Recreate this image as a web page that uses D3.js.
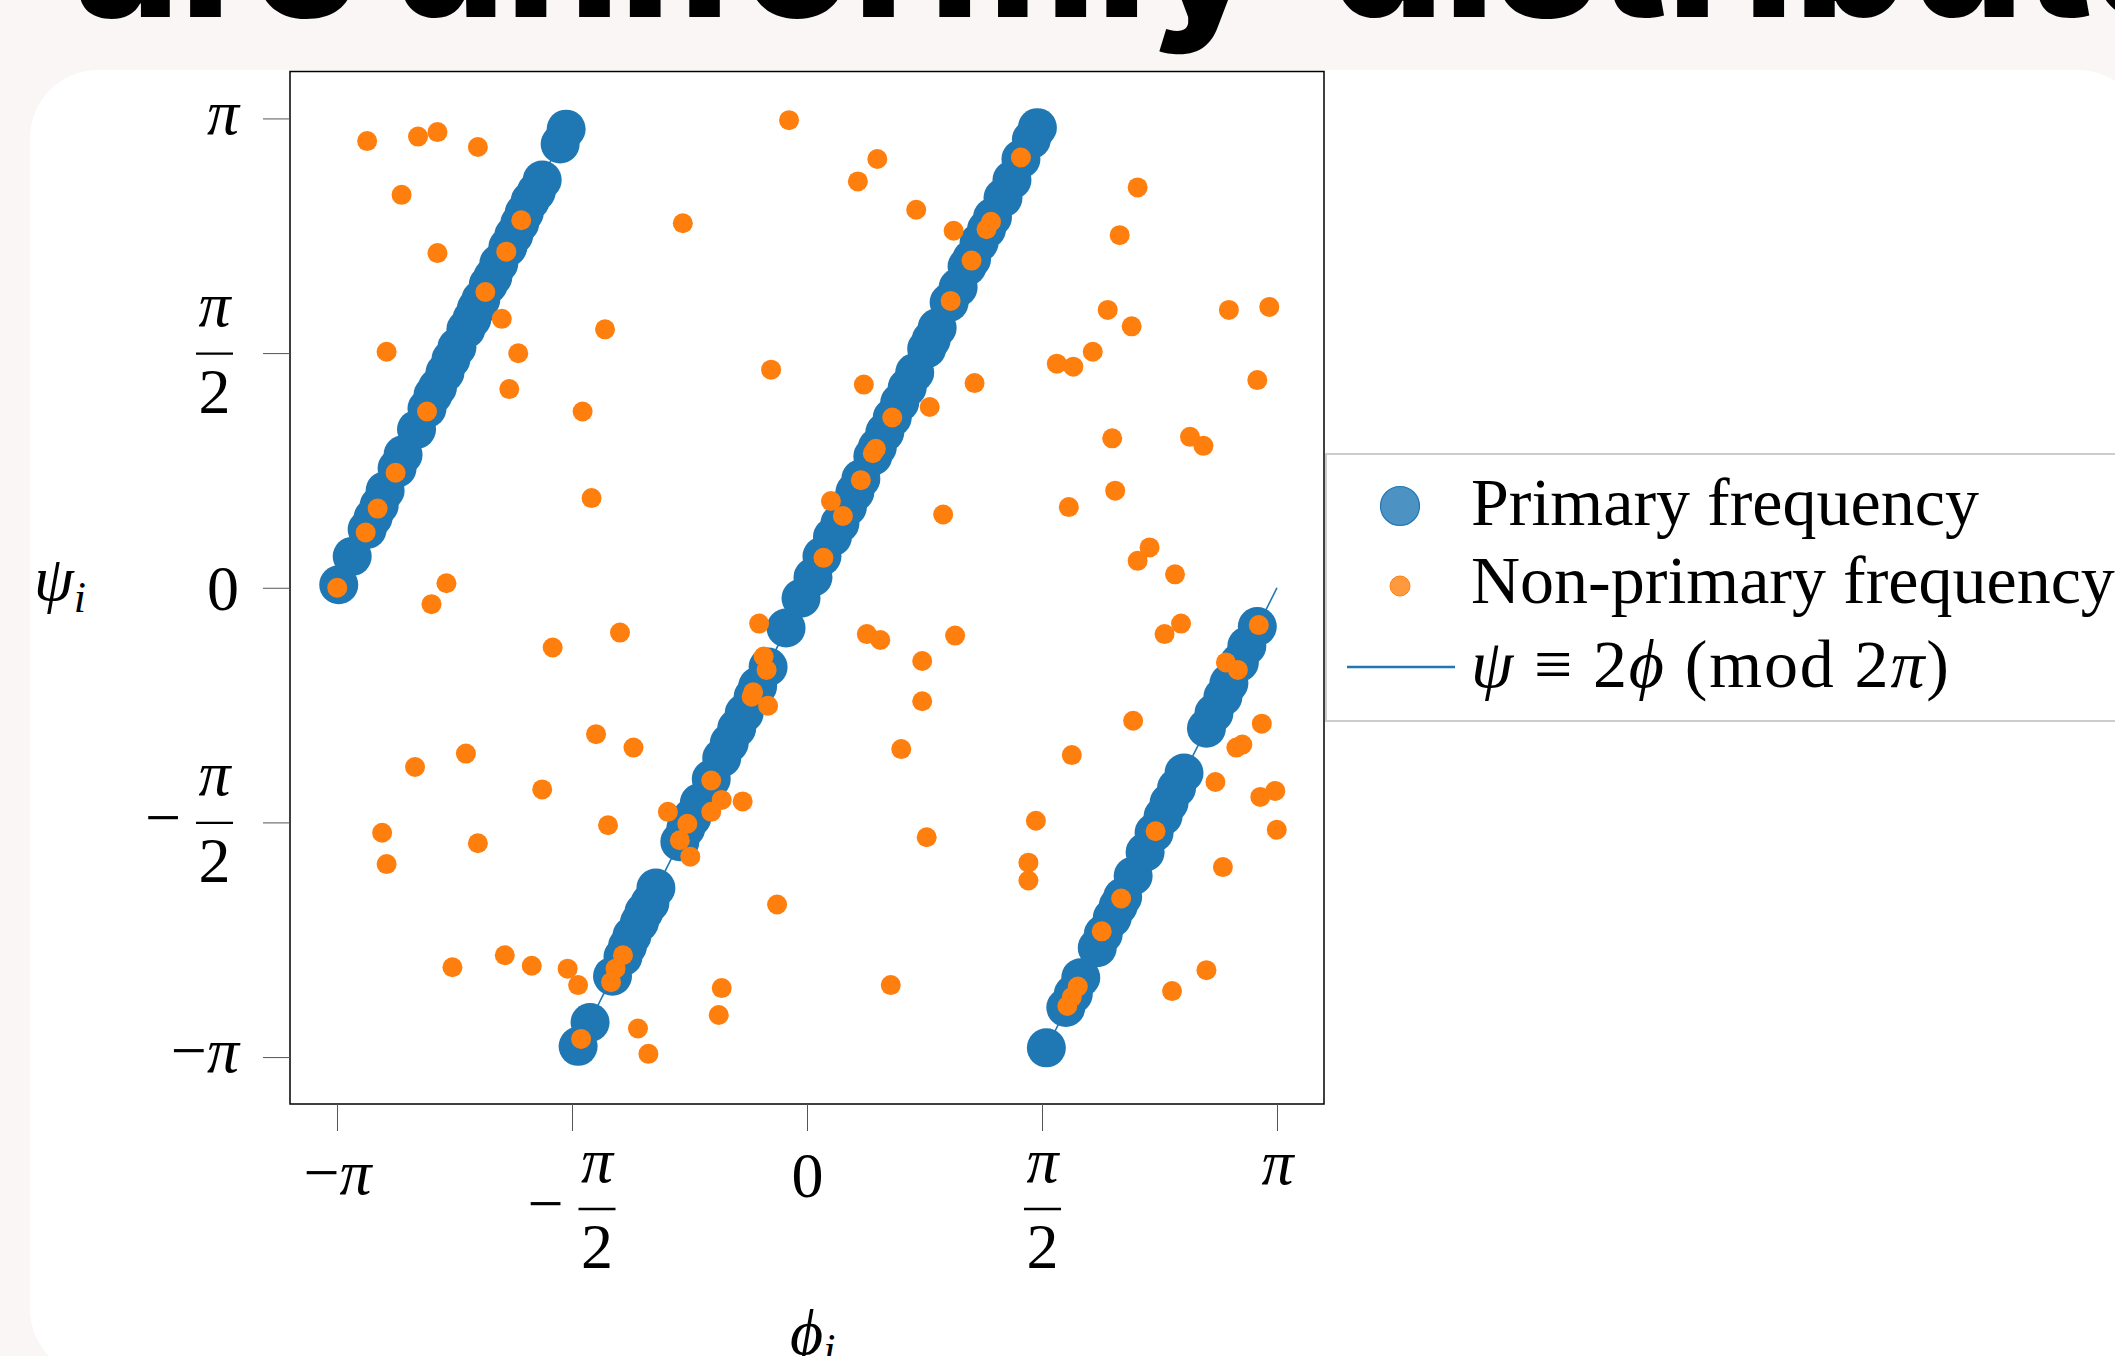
<!DOCTYPE html>
<html><head><meta charset="utf-8">
<script src="https://cdn.jsdelivr.net/npm/d3@7"></script>
<style>html,body{margin:0;padding:0;background:#f9f6f5;overflow:hidden}svg{display:block}</style>
</head><body>
<svg id="chart" width="2115" height="1356"></svg>
<script>
const PI = Math.PI;

// Primary-frequency points (phi_i, psi_i), radians
const primaryPhi = [
  -3.13, -3.04, -2.94, -2.90, -2.86, -2.82, -2.74, -2.70, -2.61, -2.54, -2.50, -2.47, -2.42, -2.38, -2.34, -2.28,
  -2.24, -2.21, -2.18, -2.13, -2.10, -2.06, -2.00, -1.96, -1.92, -1.89, -1.85, -1.81, -1.77, -1.65, -1.61,
  -1.53, -1.45, -1.30, -1.23, -1.20, -1.17, -1.12, -1.09, -1.05, -1.01, -0.85, -0.81, -0.77, -0.72, -0.64, -0.57,
  -0.52, -0.47, -0.42, -0.36, -0.33, -0.26, -0.14, -0.04, 0.04, 0.10, 0.17, 0.22, 0.27, 0.32, 0.36, 0.44, 0.47,
  0.52, 0.57, 0.62, 0.67, 0.72, 0.80, 0.83, 0.87, 0.95, 1.01, 1.07, 1.10, 1.15, 1.20, 1.24, 1.31, 1.37, 1.43, 1.50, 1.54,
  1.60, 1.73, 1.78, 1.83, 1.94, 1.98, 2.04, 2.08, 2.11, 2.18, 2.26, 2.32, 2.38, 2.42, 2.47, 2.52, 2.67, 2.72,
  2.78, 2.82, 2.89, 2.94, 3.01
];
const primaryPsi = [
  0.02, 0.21, 0.39, 0.47, 0.55, 0.65, 0.80, 0.89, 1.06, 1.20, 1.29, 1.34, 1.44, 1.53, 1.61, 1.73,
  1.80, 1.87, 1.93, 2.03, 2.08, 2.17, 2.28, 2.36, 2.44, 2.51, 2.59, 2.65, 2.73, 2.97, 3.07,
  -3.07, -2.91, -2.60, -2.47, -2.40, -2.33, -2.24, -2.17, -2.11, -2.01, -1.70, -1.61, -1.54, -1.44, -1.28, -1.14,
  -1.04, -0.94, -0.84, -0.73, -0.66, -0.53, -0.27, -0.07, 0.07, 0.21, 0.34, 0.43, 0.54, 0.64, 0.73, 0.88, 0.94,
  1.04, 1.14, 1.24, 1.34, 1.44, 1.60, 1.66, 1.74, 1.91, 2.01, 2.15, 2.20, 2.31, 2.40, 2.48, 2.61, 2.73, 2.87, 3.00, 3.08,
  -3.08, -2.81, -2.72, -2.61, -2.41, -2.32, -2.21, -2.13, -2.07, -1.93, -1.77, -1.64, -1.53, -1.44, -1.34, -1.24, -0.94, -0.84,
  -0.73, -0.64, -0.50, -0.39, -0.26
];

// Non-primary-frequency points (phi_i, psi_i), radians
const nonPrimaryPhi = [
  -2.94, -2.60, -2.47, -2.20, -0.12, -2.71, -1.91, -0.83, -2.47, -2.01, -2.15, -2.04, -1.35, -2.81, -1.93, -0.24,
  -1.99, -1.50, -2.54, -1.44, -2.75, -2.87, -2.95, -3.14, -2.41, -2.51,
  0.47, 0.34, 0.73, 0.98, 1.43, 1.23, 1.20, 1.10, 0.96, 2.21, 2.09, 2.01, 2.17, 1.91, 1.67, 1.78, 2.82, 3.09, 3.01,
  0.38, 1.12, 0.82, 0.57, 0.46, 0.44, 0.36, 0.24, 0.91, 1.75, 2.06, 2.04, 2.56, 2.65, 2.29, 2.21, 2.46, 0.16, 0.11,
  -1.70, -1.25, -0.32, -0.29, -0.27, -0.36, -0.37, -0.26, -1.41, -1.16, -2.62, -2.28, -1.77, -0.64, -0.57, -0.43,
  -0.64, -0.93, -0.80, -0.85, -0.78, -2.84, -2.20, -1.33, -2.81, -0.20, -2.37, -2.02, -1.84, -1.60, -1.53, -1.23,
  -1.28, -1.31, -1.51, -1.13, -1.06, -0.57, -0.59,
  0.40, 0.49, 0.99, 0.77, 0.77, 0.63, 1.53, 1.48, 1.48, 0.80, 0.56, 1.77, 2.18, 2.39, 2.50, 3.02, 2.80, 2.88,
  3.04, 2.87, 2.91, 2.73, 3.03, 3.13, 3.14, 2.78, 2.33, 2.10, 1.97, 1.81, 1.77, 1.74, 2.67, 2.44
];
const nonPrimaryPsi = [
  2.99, 3.02, 3.05, 2.95, 3.13, 2.63, 2.46, 2.44, 2.24, 2.25, 1.98, 1.80, 1.73, 1.58, 1.57, 1.46,
  1.33, 1.18, 1.18, 0.60, 0.77, 0.53, 0.37, 0.00, 0.03, -0.11,
  2.87, 2.72, 2.53, 2.39, 2.88, 2.45, 2.40, 2.19, 1.92, 2.68, 2.36, 1.86, 1.75, 1.58, 1.50, 1.48, 1.86, 1.88, 1.39,
  1.36, 1.37, 1.21, 1.14, 0.93, 0.90, 0.72, 0.48, 0.49, 0.54, 0.65, 1.00, 1.01, 0.95, 0.27, 0.18, 0.09, 0.58, 0.20,
  -0.40, -0.30, -0.24, -0.46, -0.55, -0.70, -0.73, -0.79, -0.98, -1.07, -1.20, -1.11, -1.35, -1.29, -1.42, -1.43,
  -1.50, -1.50, -1.58, -1.69, -1.80, -1.64, -1.71, -1.59, -1.85, -2.12, -2.54, -2.46, -2.53, -2.55, -2.66, -2.46,
  -2.55, -2.64, -3.02, -2.95, -3.12, -2.68, -2.86,
  -0.31, -0.35, -0.32, -0.49, -0.76, -1.08, -1.56, -1.84, -1.96, -1.67, -2.66, -1.12, -0.89, -0.31, -0.24, -0.25, -0.50, -0.55,
  -0.91, -1.07, -1.05, -1.30, -1.40, -1.36, -1.62, -1.87, -1.63, -2.08, -2.30, -2.67, -2.74, -2.80, -2.56, -2.70
];

// Reference line psi = 2 phi (mod 2 pi), as its three branches
const lineBranchPhi = [[-PI, -PI / 2], [-PI / 2, PI / 2], [PI / 2, PI]];
const lineBranchPsi = [[0, PI], [-PI, PI], [-PI, 0]];

const tickValues = [-PI, -PI / 2, 0, PI / 2, PI];
const tickLabels = [
  {sign: "−", num: "π"}, {sign: "−", num: "π", den: "2"}, {num: "0"}, {num: "π", den: "2"}, {num: "π"}
];
const seriesNames = ["Primary frequency", "Non-primary frequency"];
const titleWords = ["are", "uniformly", "distributed"];

// ---------------- drawing ----------------
(function () {
const svg = d3.select("#chart");
const mathFont = "'Liberation Serif', 'DejaVu Serif', serif";
const BLUE = "#1f77b4", ORANGE = "#ff7f0e";

svg.append("rect").attr("width", 2115).attr("height", 1356).attr("fill", "#f9f6f5");

// title (cut off at the top of the slide, as in the reference)
const tg = svg.append("g").attr("font-family", "Inter, 'Open Sans', sans-serif").attr("font-weight", 800).attr("fill", "#000");
const probe = tg.append("text").attr("font-size", 100).text(titleWords[1]);
const fsTitle = 100 * 870 / probe.node().getComputedTextLength();
probe.remove();
const titleXs = [74, 391, 1329];
titleWords.forEach((w, i) => {
  tg.append("text").attr("x", titleXs[i]).attr("y", 17).attr("font-size", fsTitle).text(w);
});

// white card
svg.append("rect").attr("x", 30).attr("y", 70).attr("width", 2116).attr("height", 1307)
  .attr("rx", 68).attr("fill", "#ffffff");

const pL = 290, pR = 1324, pT = 71.5, pB = 1104;
const x = d3.scaleLinear().domain([-1.1 * PI, 1.1 * PI]).range([pL, pR]);
const y = d3.scaleLinear().domain([-1.1 * PI, 1.1 * PI]).range([pB, pT]);

svg.append("rect").attr("x", pL).attr("y", pT).attr("width", pR - pL).attr("height", pB - pT)
  .attr("fill", "#fff");

// reference line
const line = d3.line().x(d => x(d[0])).y(d => y(d[1]));
lineBranchPhi.forEach((ph, i) => {
  svg.append("path").datum(ph.map((p, j) => [p, lineBranchPsi[i][j]]))
    .attr("d", line).attr("fill", "none").attr("stroke", BLUE).attr("stroke-width", 1.6);
});

// points
const primary = primaryPhi.map((p, i) => [p, primaryPsi[i]]);
const nonPrimary = nonPrimaryPhi.map((p, i) => [p, nonPrimaryPsi[i]]);
svg.append("g").selectAll("circle").data(primary).join("circle")
  .attr("cx", d => x(d[0])).attr("cy", d => y(d[1])).attr("r", 19.5).attr("fill", BLUE);
svg.append("g").selectAll("circle").data(nonPrimary).join("circle")
  .attr("cx", d => x(d[0])).attr("cy", d => y(d[1])).attr("r", 10).attr("fill", ORANGE);

// frame
svg.append("rect").attr("x", pL).attr("y", pT).attr("width", pR - pL).attr("height", pB - pT)
  .attr("fill", "none").attr("stroke", "#000").attr("stroke-width", 1.5);

// axes
const xAxis = d3.axisBottom(x).tickValues(tickValues).tickSize(27).tickFormat("");
const yAxis = d3.axisLeft(y).tickValues(tickValues).tickSize(27).tickFormat("");
const gx = svg.append("g").attr("transform", `translate(0,${pB})`).call(xAxis);
const gy = svg.append("g").attr("transform", `translate(${pL},0)`).call(yAxis);
[gx, gy].forEach(g => {
  g.select(".domain").remove();
  g.selectAll(".tick line").attr("stroke", "#555").attr("stroke-width", 1);
});

function fraction(g, lab, fx, barY, numBase, denBase) {
  g.append("line").attr("x1", fx - 18.5).attr("x2", fx + 18.5).attr("y1", barY).attr("y2", barY)
    .attr("stroke", "#000").attr("stroke-width", 2.4);
  g.append("text").attr("x", fx).attr("y", numBase).attr("text-anchor", "middle")
    .attr("font-style", "italic").text(lab.num);
  g.append("text").attr("x", fx).attr("y", denBase).attr("text-anchor", "middle").text(lab.den);
  if (lab.sign) {
    g.append("text").attr("x", fx - 51.5).attr("y", barY + 16).attr("text-anchor", "middle").text(lab.sign);
  }
}
function simple(g, lab, tx, ty, anchor) {
  const t = g.append("text").attr("x", tx).attr("y", ty).attr("text-anchor", anchor);
  if (lab.sign) t.append("tspan").text(lab.sign);
  t.append("tspan").attr("font-style", lab.num === "π" ? "italic" : null).text(lab.num);
}

gx.selectAll(".tick").each(function (d, i) {
  const g = d3.select(this).append("g").attr("font-family", mathFont).attr("font-size", 64).attr("fill", "#000");
  const lab = tickLabels[i];
  if (lab.den) fraction(g, lab, lab.sign ? 24.5 : 0, 105, 78, 164);
  else simple(g, lab, 0, lab.num === "0" ? 93 : (lab.sign ? 90 : 80), "middle");
});
gy.selectAll(".tick").each(function (d, i) {
  const g = d3.select(this).append("g").attr("font-family", mathFont).attr("font-size", 64).attr("fill", "#000");
  const lab = tickLabels[i];
  if (lab.den) fraction(g, lab, -75.5, 0, -28, 59);
  else simple(g, lab, -51, lab.num === "0" ? 22 : (lab.sign ? 14 : 15), "end");
});

// axis labels
const xl = svg.append("text").attr("x", 790).attr("y", 1354).attr("font-family", mathFont).attr("font-size", 64);
xl.append("tspan").attr("font-style", "italic").text("ϕ");
xl.append("tspan").attr("font-style", "italic").attr("font-size", 44).attr("dy", 10).text("i");
const yl = svg.append("text").attr("x", 34).attr("y", 600).attr("font-family", mathFont).attr("font-size", 64);
yl.append("tspan").attr("font-style", "italic").text("ψ");
yl.append("tspan").attr("font-style", "italic").attr("font-size", 44).attr("dy", 12).text("i");

// legend
const lg = svg.append("g");
lg.append("rect").attr("x", 1326).attr("y", 454).attr("width", 850).attr("height", 267)
  .attr("fill", "#fff").attr("stroke", "#cccccc").attr("stroke-width", 2);
lg.append("circle").attr("cx", 1400).attr("cy", 506).attr("r", 19.5)
  .attr("fill", BLUE).attr("fill-opacity", 0.8).attr("stroke", BLUE).attr("stroke-width", 1.2);
lg.append("circle").attr("cx", 1400).attr("cy", 586).attr("r", 10)
  .attr("fill", ORANGE).attr("fill-opacity", 0.8).attr("stroke", ORANGE).attr("stroke-width", 1);
lg.append("line").attr("x1", 1347).attr("x2", 1455).attr("y1", 667).attr("y2", 667)
  .attr("stroke", BLUE).attr("stroke-width", 2.5);
const lt = lg.append("g").attr("font-family", mathFont).attr("font-size", 68).attr("fill", "#000");
lt.append("text").attr("x", 1471).attr("y", 525).text(seriesNames[0]);
lt.append("text").attr("x", 1471).attr("y", 603).text(seriesNames[1]);
const l3 = lt.append("text").attr("x", 1471).attr("y", 687)
  .attr("textLength", 478).attr("lengthAdjust", "spacing");
l3.append("tspan").attr("font-style", "italic").text("ψ");
l3.append("tspan").text(" ≡ 2");
l3.append("tspan").attr("font-style", "italic").text("ϕ");
l3.append("tspan").text(" (mod 2");
l3.append("tspan").attr("font-style", "italic").text("π");
l3.append("tspan").text(")");
})();
</script>
</body></html>
